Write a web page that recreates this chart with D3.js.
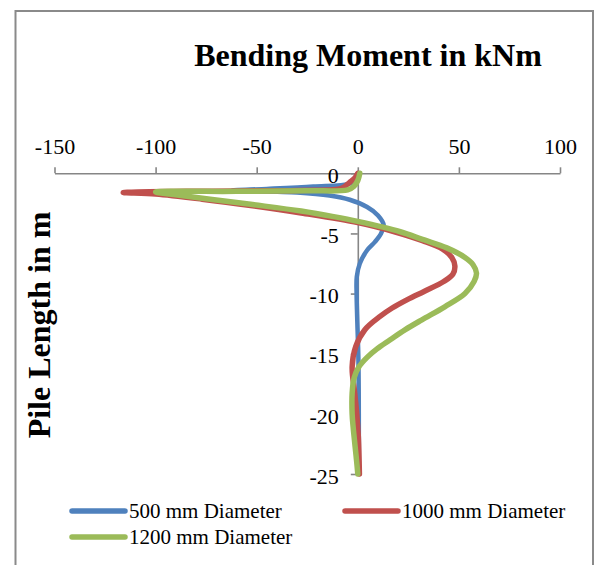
<!DOCTYPE html>
<html>
<head>
<meta charset="utf-8">
<script src="https://cdn.jsdelivr.net/npm/d3@7"></script>
<style>
  html, body { margin: 0; padding: 0; background: #fff; }
  svg { display: block; }
  text { font-family: "Liberation Serif", "Times New Roman", serif; fill: #000; }
</style>
</head>
<body>
<svg id="chart" width="597" height="565"></svg>
<script>
// ---- data ----
const xTicks = [-150, -100, -50, 0, 50, 100];
const yTicks = [0, -5, -10, -15, -20, -25];

const depth500  = [0, 0.5, 0.85, 1.1, 1.3, 1.42, 1.6, 1.85, 2.2, 2.8, 3.5, 4.3, 5.0, 5.7, 6.4, 7.5, 8.6, 10, 12, 15.5, 20, 25];
const moment500 = [0, -1, -4, -22, -45, -62, -30, -14, -4, 4.6, 10, 12.8, 11.5, 8.5, 4.6, 1.0, -0.5, -0.6, -0.3, 0.3, 0.5, 0.5];

const depth1000  = [0, 0.4, 0.75, 1.1, 1.3, 1.42, 1.5, 1.6, 1.73, 2.15, 2.7, 3.3, 4.1, 4.9, 5.6, 6.3, 7.0, 7.7, 8.4, 9.0, 9.8, 10.5, 11.2, 11.9, 13.0, 14.4, 16.1, 18.3, 20, 22, 25];
const moment1000 = [0, -1.5, -4, -6.5, -9, -30, -85, -116, -100, -77, -52, -28, 0, 19, 32, 42, 46.5, 48, 47, 42.5, 33, 24.5, 17, 11, 3.5, -1, -2.8, -1.5, -0.5, 0.3, 0.8];

const depth1200  = [0, 0.6, 1.1, 1.38, 1.45, 1.5, 1.56, 1.75, 2.15, 2.6, 3.14, 3.6, 4.0, 4.86, 5.5, 6.2, 7.0, 7.6, 8.3, 9.0, 10, 11.1, 12.2, 13.0, 13.9, 14.6, 15.3, 16.1, 17.0, 18.3, 20, 21.1, 23.9, 25];
const moment1200 = [1, 0, -2, -5, -25, -60, -100, -92, -73, -52, -28, -12, 0, 21, 32, 44, 53, 57, 58.7, 57.5, 53, 43, 31.5, 23.5, 15.5, 9.5, 4.6, 0.5, -1.8, -2.8, -2.8, -2.3, -0.6, 0];

const seriesNames  = ["500 mm Diameter", "1000 mm Diameter", "1200 mm Diameter"];
const seriesColors = ["#4F81BD", "#C0504D", "#9BBB59"];
const seriesDepths = [depth500, depth1000, depth1200];
const seriesMoments = [moment500, moment1000, moment1200];

const chartTitle = "Bending Moment in kNm";
const yTitle = "Pile Length in m";

// ---- drawing ----
const svg = d3.select("#chart");
const axisColor = "#868686";

// outer border
svg.append("rect")
  .attr("x", 15.5).attr("y", 11).attr("width", 577.5).attr("height", 600)
  .attr("fill", "none").attr("stroke", "#8a8a8a").attr("stroke-width", 2);

const x = d3.scaleLinear().domain([-150, 100]).range([54.5, 560]);
const y = d3.scaleLinear().domain([0, -25]).range([173.3, 474]);

// title
svg.append("text")
  .attr("x", 368).attr("y", 66)
  .attr("text-anchor", "middle")
  .style("font-size", "32px").style("font-weight", "bold")
  .text(chartTitle);

// y title
svg.append("text")
  .attr("transform", "translate(50,325) rotate(-90)")
  .attr("text-anchor", "middle")
  .style("font-size", "32px").style("font-weight", "bold")
  .text(yTitle);

// x axis (top)
const gx = svg.append("g").attr("transform", `translate(0,${y(0)})`)
  .call(d3.axisTop(x).tickValues(xTicks).tickSize(6).tickSizeOuter(0).tickPadding(13));
gx.attr("font-family", null).attr("font-size", null);
gx.select(".domain").attr("stroke", axisColor).attr("stroke-width", 1.6);
gx.selectAll(".tick line").attr("stroke", axisColor).attr("stroke-width", 1.6);
gx.selectAll(".tick text").style("font-size", "22px")
  .text(d => d < 0 ? "-" + Math.abs(d) : d);

// y axis at x = 0
const gy = svg.append("g").attr("transform", `translate(${x(0)},0)`)
  .call(d3.axisLeft(y).tickValues(yTicks).tickSize(7).tickSizeOuter(0).tickPadding(12));
gy.attr("font-family", null).attr("font-size", null);
gy.select(".domain").attr("stroke", axisColor).attr("stroke-width", 1.6);
gy.selectAll(".tick line").attr("stroke", axisColor).attr("stroke-width", 1.6);
gy.selectAll(".tick text").style("font-size", "22px")
  .attr("dy", "0.42em")
  .text(d => d < 0 ? "-" + Math.abs(d) : d);

// lines
const line = d3.line()
  .x(d => x(d[1]))
  .y(d => y(-d[0]))
  .curve(d3.curveCatmullRom.alpha(0.5));

seriesNames.forEach((name, i) => {
  const pts = seriesDepths[i].map((dep, k) => [dep, seriesMoments[i][k]]);
  svg.append("path")
    .datum(pts)
    .attr("d", line)
    .attr("fill", "none")
    .attr("stroke", seriesColors[i])
    .attr("stroke-width", i === 0 ? 4.5 : 5.5)
    .attr("stroke-linecap", "round")
    .attr("stroke-linejoin", "round");
});

// legend
const legendPos = [[72, 511], [345, 511], [72, 537]];
seriesNames.forEach((name, i) => {
  const [lx, ly] = legendPos[i];
  const g = svg.append("g").attr("transform", `translate(${lx},${ly})`);
  g.append("line").attr("x1", 0).attr("x2", 53).attr("y1", 0).attr("y2", 0)
    .attr("stroke", seriesColors[i]).attr("stroke-width", 5.5).attr("stroke-linecap", "round");
  g.append("text").attr("x", 57).attr("y", 7)
    .style("font-size", "21px").text(name);
});
</script>
</body>
</html>
